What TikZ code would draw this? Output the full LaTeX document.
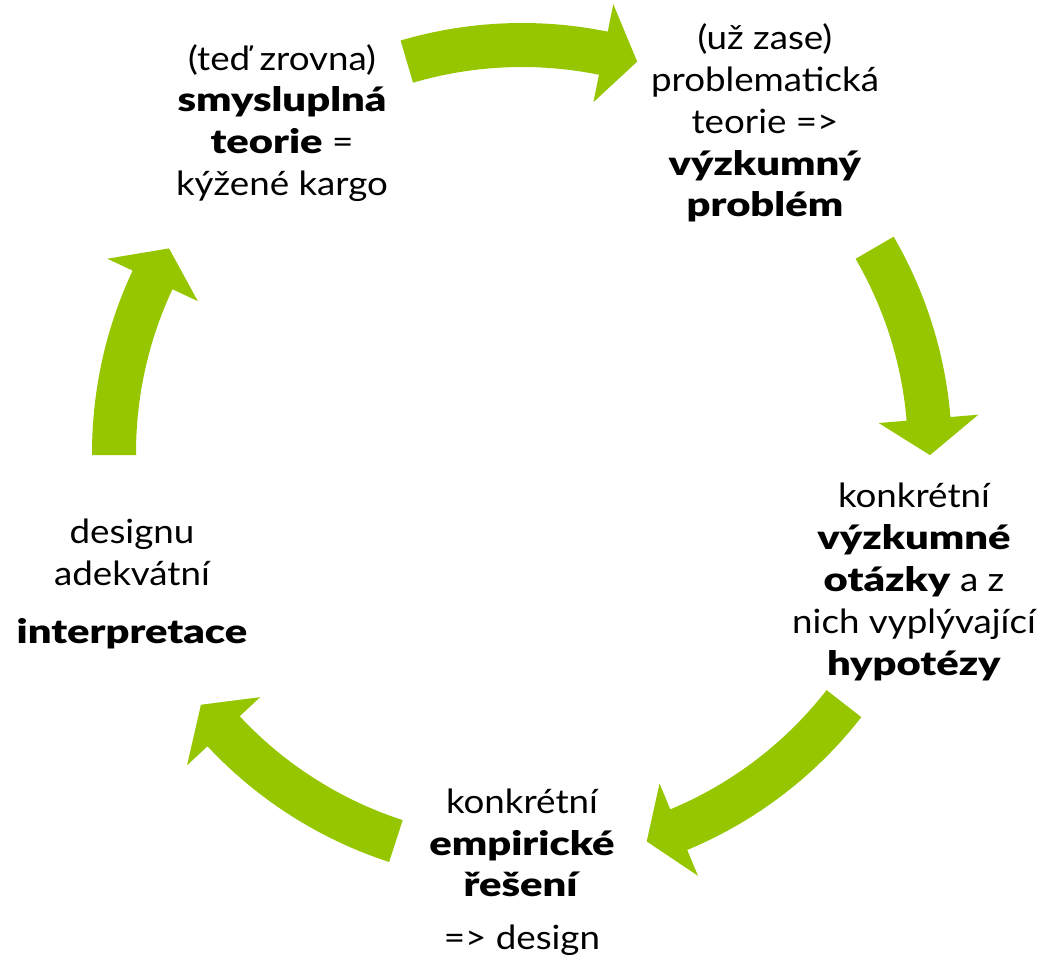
\documentclass[tikz,border=0pt]{standalone}
\usepackage{fontspec}
\setmainfont{Lato}[FakeStretch=1.1, BoldFont={Lato Black}, BoldFeatures={FakeStretch=1.25}]
\usepackage{xcolor}
\usepackage{tikz}
\definecolor{CycleGreen}{RGB}{149,198,0}
\tikzset{cycletext/.style={align=center, font=\fontsize{19}{23.8}\selectfont}}
\tikzset{cyclearrow/.style={fill=CycleGreen}}

\begin{document}
\begin{tikzpicture}[x=0.02cm, y=0.02cm]
      \useasboundingbox (-522,-503) rectangle (516,453);
      \coordinate (O) at (0,0);
      \fill[cyclearrow] (106.4:430) arc[start angle=106.4, end angle=78.5, radius=430] -- (78.5:458) -- (73.6:408) -- (78.5:358) -- (78.5:386) arc[start angle=78.5, end angle=106.4, radius=386] -- cycle;
      \fill[cyclearrow] (30.2:430) arc[start angle=30.2, end angle=4.8, radius=430] -- (4.8:458) -- (-0.3:408) -- (4.8:358) -- (4.8:386) arc[start angle=4.8, end angle=30.2, radius=386] -- cycle;
      \fill[cyclearrow] (-37.9:430) arc[start angle=-37.9, end angle=-67.4, radius=430] -- (-67.4:458) -- (-72.2:408) -- (-67.4:358) -- (-67.4:386) arc[start angle=-67.4, end angle=-37.9, radius=386] -- cycle;
      \fill[cyclearrow] (-108:430) arc[start angle=-108, end angle=-137, radius=430] -- (-137:458) -- (-141.9:408) -- (-137:358) -- (-137:386) arc[start angle=-137, end angle=-108, radius=386] -- cycle;
      \fill[cyclearrow] (180.3:430) arc[start angle=180.3, end angle=154.9, radius=430] -- (154.9:458) -- (149.9:408) -- (154.9:358) -- (154.9:386) arc[start angle=154.9, end angle=180.3, radius=386] -- cycle;
      \node[cycletext] (teorie) at (-240,330) {(teď zrovna)\\\textbf{smysluplná}\\\textbf{teorie} =\\kýžené kargo};
      \node[cycletext] (problem) at (243,330) {(už zase)\\problematická\\teorie =>\\\textbf{výzkumný}\\\textbf{problém}};
      \node[cycletext] (otazky) at (392,-129) {konkrétní\\\textbf{výzkumné}\\\textbf{otázky} a z\\nich vyplývající\\\textbf{hypotézy}};
      \node[cycletext] (reseni) at (0,-419) {konkrétní\\\textbf{empirické}\\\textbf{řešení}\\[6pt]=> design};
      \node[cycletext] (interpretace) at (-390,-131) {designu\\adekvátní\\[9pt]\textbf{interpretace}};
    \end{tikzpicture}
\end{document}
